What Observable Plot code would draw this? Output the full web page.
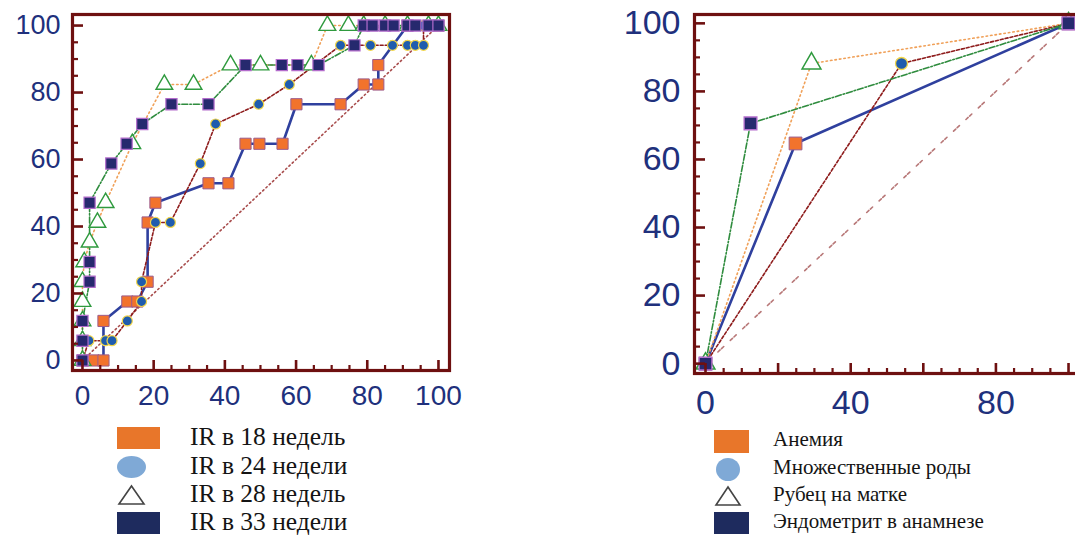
<!DOCTYPE html>
<html>
<head>
<meta charset="utf-8">
<script src="https://cdn.jsdelivr.net/npm/d3@7"></script>
<script src="https://cdn.jsdelivr.net/npm/@observablehq/plot@0.6"></script>
<style>
html,body{margin:0;padding:0;background:#fff;overflow:hidden;}
#wrap{position:relative;width:1075px;height:541px;overflow:hidden;background:#fff;}
#left{position:absolute;left:0;top:0;width:470px;height:420px;}
#right{position:absolute;left:600px;top:0;width:490px;height:420px;}
#left svg, #right svg{max-width:none !important;}
.lg{position:absolute;font-family:"Liberation Serif","Times New Roman",serif;color:#141414;white-space:nowrap;line-height:1;}
.sym{position:absolute;}
</style>
</head>
<body>
<div id="wrap">
  <div id="left"></div>
  <div id="right"></div>
  <div id="legends"></div>
</div>
<script>
// ---------- Left chart data (IR by gestational week) ----------
const ir18X = [0, 3.1, 5.9, 5.9, 12.6, 15.4, 18.3, 18.3, 20.5, 35.4, 41.0, 45.8, 49.7, 56.2, 60.1, 72.5, 79.0, 83.1, 83.1, 91.3, 100];
const ir18Y = [0, 0, 0, 11.8, 17.6, 17.6, 23.5, 41.2, 47.1, 52.9, 52.9, 64.7, 64.7, 64.7, 76.5, 76.5, 82.4, 82.4, 88.2, 100, 100];

const ir24X = [0, 1.8, 6.5, 8.3, 12.6, 16.6, 16.6, 20.5, 24.7, 33.1, 37.4, 49.5, 58.1, 72.5, 80.9, 87.1, 91.3, 93.5, 95.8, 95.8, 100];
const ir24Y = [0, 5.9, 5.9, 5.9, 11.8, 17.6, 23.5, 41.2, 41.2, 58.8, 70.6, 76.5, 82.4, 94.1, 94.1, 94.1, 94.1, 94.1, 94.1, 100, 100];

const ir28X = [0, 0, 0, 0, 0, 0.5, 2.0, 4.2, 6.5, 14.0, 23.0, 31.2, 41.6, 50.0, 64.3, 68.8, 74.7, 79.0, 85.0, 91.3, 97.2, 100];
const ir28Y = [0, 5.9, 11.8, 17.6, 23.5, 29.4, 35.3, 41.2, 47.1, 64.7, 82.4, 82.4, 88.2, 88.2, 88.2, 100, 100, 100, 100, 100, 100, 100];

const ir33X = [0, 0, 0, 2.0, 2.0, 2.0, 8.1, 12.4, 16.8, 25.0, 35.4, 45.8, 56.0, 60.4, 66.3, 76.4, 79.0, 81.5, 85.0, 87.4, 91.3, 93.5, 97.2, 100];
const ir33Y = [0, 5.9, 11.8, 23.5, 29.4, 47.1, 58.8, 64.7, 70.6, 76.5, 76.5, 88.2, 88.2, 88.2, 88.2, 94.1, 100, 100, 100, 100, 100, 100, 100, 100];

// ---------- Right chart data (risk factors) ----------
const anemiaX = [0, 24.8, 100];
const anemiaY = [0, 64.7, 100];
const birthsX = [0, 54.0, 100];
const birthsY = [0, 88.2, 100];
const scarX = [0, 29.2, 100];
const scarY = [0, 88.2, 100];
const endoX = [0, 12.4, 100];
const endoY = [0, 70.6, 100];

// reference diagonal
const diagX = [0, 100];
const diagY = [0, 100];

// tick labels
const leftXTicks = [0, 20, 40, 60, 80, 100];
const leftYTicks = [0, 20, 40, 60, 80, 100];
const rightXTicks = [0, 40, 80];
const rightYTicks = [0, 20, 40, 60, 80, 100];

// legend labels
const leftLegend = ["IR в 18 недель", "IR в 24 недели", "IR в 28 недель", "IR в 33 недели"];
const rightLegend = ["Анемия", "Множественные роды", "Рубец на матке", "Эндометрит в анамнезе"];

// ---------- styling ----------
const MAROON = "#6e1010";
const NAVY = "#20307c";
const LINE_BLUE = "#2f409e";
const LINE_RED = "#8e1c1c";
const LINE_ORANGE = "#f0a058";
const LINE_GREEN = "#2f8c3e";
const DIAG = "#b05858";

const pts = (xs, ys) => xs.map((x, i) => ({x, y: ys[i]}));
const minorT = d3.range(0, 101, 5).filter(v => v % 20 !== 0);
const majorT = d3.range(0, 101, 20);

function chart(cfg) {
  const {width, height, mL, mR, mT, mB, xDom, yDom, series, diag, xTicks, yTicks, fx, fy, padX, padY, diagDash, diagColor} = cfg;
  const plotW = width - mL - mR, plotH = height - mT - mB;
  const marks = [];
  marks.push(Plot.line(diag, {x: "x", y: "y", stroke: diagColor, strokeWidth: 1.6, strokeDasharray: diagDash}));
  for (const s of series) {
    marks.push(Plot.line(s.data, {x: "x", y: "y", stroke: s.stroke, strokeWidth: s.sw, strokeDasharray: s.dash}));
  }
  for (const s of series) {
    marks.push(Plot.dot(s.data, {x: "x", y: "y", symbol: s.symbol, r: s.r, fill: s.fill, stroke: s.mstroke, strokeWidth: s.msw}));
  }
  // inward ticks
  marks.push(Plot.ruleY(minorT, {y: d => d, stroke: MAROON, strokeWidth: 2.2, insetRight: plotW - 6}));
  marks.push(Plot.ruleY(majorT, {y: d => d, stroke: MAROON, strokeWidth: 2.6, insetRight: plotW - 11}));
  marks.push(Plot.ruleX(minorT, {x: d => d, stroke: MAROON, strokeWidth: 2.2, insetTop: plotH - 5}));
  marks.push(Plot.ruleX(majorT, {x: d => d, stroke: MAROON, strokeWidth: 2.6, insetTop: plotH - 10}));
  marks.push(Plot.frame({stroke: MAROON, strokeWidth: 3.2}));
  marks.push(Plot.axisX(xTicks, {anchor: "bottom", tickSize: 0, tickPadding: padX, fontSize: fx, color: NAVY, label: null}));
  marks.push(Plot.axisY(yTicks, {anchor: "left", tickSize: 0, tickPadding: padY, fontSize: fy, color: NAVY, label: null}));
  const svg = Plot.plot({
    width, height,
    marginLeft: mL, marginRight: mR, marginTop: mT, marginBottom: mB,
    x: {domain: xDom, label: null},
    y: {domain: yDom, label: null},
    style: {fontFamily: "'Liberation Sans', Arial, sans-serif", background: "transparent", overflow: "visible", color: NAVY, maxWidth: "none"},
    marks
  });
  svg.style.maxWidth = "none";
  svg.setAttribute("width", width);
  svg.setAttribute("height", height);
  return svg;
}

const leftSeries = [
  {data: pts(ir18X, ir18Y), stroke: LINE_BLUE, sw: 2.6, dash: null, symbol: "square", r: 6.3, fill: "#f2732c", mstroke: "#9c5c8c", msw: 1},
  {data: pts(ir28X, ir28Y), stroke: LINE_ORANGE, sw: 1.6, dash: "1.5,3", symbol: "triangle", r: 6.2, fill: "white", mstroke: "#2f9a3e", msw: 1.4},
  {data: pts(ir24X, ir24Y), stroke: LINE_RED, sw: 1.6, dash: "3,2", symbol: "circle", r: 5, fill: "#1f5cae", mstroke: "#f2d64a", msw: 1.2},
  {data: pts(ir33X, ir33Y), stroke: LINE_GREEN, sw: 1.6, dash: "6,2,1.5,2", symbol: "square", r: 6.3, fill: "#26296e", mstroke: "#b36ccc", msw: 1.2}
];

const left = chart({
  width: 470, height: 420, mL: 72, mR: 21, mT: 14, mB: 50,
  xDom: [-2.8, 103.1], yDom: [-3, 103.3],
  series: leftSeries, diag: pts(diagX, diagY),
  xTicks: leftXTicks, yTicks: leftYTicks, fx: 28, fy: 27, padX: 15, padY: 12, diagDash: "1.5,3", diagColor: "#a84c4c"
});
document.getElementById("left").appendChild(left);

const rightSeries = [
  {data: pts(anemiaX, anemiaY), stroke: LINE_BLUE, sw: 2.6, dash: null, symbol: "square", r: 7.2, fill: "#f2732c", mstroke: "#9c5c8c", msw: 1},
  {data: pts(scarX, scarY), stroke: LINE_ORANGE, sw: 1.6, dash: "1.5,3", symbol: "triangle", r: 7, fill: "white", mstroke: "#2f9a3e", msw: 1.5},
  {data: pts(birthsX, birthsY), stroke: LINE_RED, sw: 1.6, dash: "3,2", symbol: "circle", r: 6, fill: "#1f5cae", mstroke: "#f2d64a", msw: 1.3},
  {data: pts(endoX, endoY), stroke: LINE_GREEN, sw: 1.6, dash: "6,2,1.5,2", symbol: "square", r: 7.2, fill: "#26296e", mstroke: "#b36ccc", msw: 1.3}
];
const right = chart({
  width: 490, height: 420, mL: 94, mR: 10, mT: 14, mB: 47,
  xDom: [-3.03, 103.3], yDom: [-2.9, 102.6],
  series: rightSeries, diag: pts(diagX, diagY),
  xTicks: rightXTicks, yTicks: rightYTicks, fx: 34, fy: 34, padX: 16, padY: 14, diagDash: "3,2,3,9", diagColor: "#b87878"
});
document.getElementById("right").appendChild(right);

// ---------- Legends ----------
const L = document.getElementById("legends");
function sym(kind, x, cy, w, h, color) {
  let el;
  if (kind === "rect") {
    el = document.createElement("div");
    el.style.cssText = `left:${x}px;top:${cy - h / 2}px;width:${w}px;height:${h}px;background:${color};`;
  } else if (kind === "ellipse") {
    el = document.createElement("div");
    el.style.cssText = `left:${x}px;top:${cy - h / 2}px;width:${w}px;height:${h}px;background:${color};border-radius:50%;`;
  } else {
    el = document.createElementNS("http://www.w3.org/2000/svg", "svg");
    el.setAttribute("width", w); el.setAttribute("height", h);
    el.style.cssText = `left:${x}px;top:${cy - h / 2}px;overflow:visible;`;
    const p = document.createElementNS("http://www.w3.org/2000/svg", "polygon");
    p.setAttribute("points", `${w / 2},1 ${w - 1},${h - 1} 1,${h - 1}`);
    p.setAttribute("fill", "white"); p.setAttribute("stroke", color); p.setAttribute("stroke-width", "1.6");
    el.appendChild(p);
  }
  el.classList.add("sym");
  el.style.position = "absolute";
  L.appendChild(el);
}
function label(text, x, cy, size) {
  const d = document.createElement("div");
  d.className = "lg";
  d.textContent = text;
  d.style.left = x + "px";
  d.style.top = (cy - size * 0.55) + "px";
  d.style.fontSize = size + "px";
  L.appendChild(d);
}
const leftRows = [438, 467, 495, 523];
sym("rect", 117, leftRows[0], 43, 22, "#e8762a");
sym("ellipse", 117, leftRows[1], 29, 22, "#7fa9d6");
sym("tri", 118, leftRows[2], 27, 20, "#444");
sym("rect", 117, leftRows[3], 43, 22, "#1e2b5e");
leftLegend.forEach((t, i) => label(t, 190, leftRows[i], 25.5));

const rightRows = [441, 469, 496, 523];
sym("rect", 714, rightRows[0], 35, 23, "#e8762a");
sym("ellipse", 716, rightRows[1], 24, 23, "#7fa9d6");
sym("tri", 715, rightRows[2], 26, 20, "#444");
sym("rect", 714, rightRows[3], 35, 22, "#1e2b5e");
rightLegend.forEach((t, i) => label(t, 773, rightRows[i], 21));
</script>
</body>
</html>
